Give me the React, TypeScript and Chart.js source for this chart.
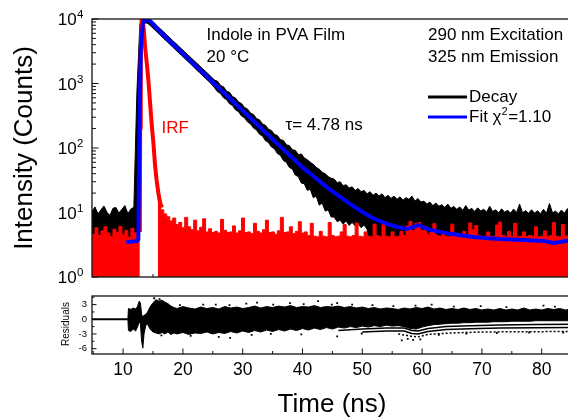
import React, { useEffect, useRef } from "react";
import { Chart, registerables } from "chart.js";
Chart.register(...registerables);

const FONT = '"Liberation Sans", Arial, Helvetica, sans-serif';

// ---- data ----
const channelStart = 4.8; // ns, first channel
const channelWidth = 0.5; // ns per channel

const decayUpper = [
  10.5, 12.2, 9.4, 11.0, 12.6, 10.1, 9.0, 11.6, 12.0, 9.8,
  11.2, 12.8, 9.6, 11.3, 12.1, 700, 8200, 10300, 10500, 10300,
  9400, 8500, 7650, 6950, 6300, 5650, 5150, 4600, 4200, 3780,
  3420, 3100, 2800, 2540, 2290, 2070, 1880, 1690, 1540, 1390,
  1250, 1130, 1080, 933, 887, 761, 730, 626, 595, 516,
  490, 425, 403, 349, 331, 287, 274, 236, 225, 196,
  187, 163, 156, 135, 131, 112, 109, 94, 92, 79,
  81, 70, 66, 60, 56, 50, 47, 42, 40, 36,
  34, 33, 29, 30, 26, 27, 24, 25, 22, 23.5,
  21, 22, 19.5, 21, 18.5, 20, 18, 19.5, 17, 18.5,
  16.5, 18, 16, 17.5, 15.5, 17, 16, 18, 15, 16.5,
  14.5, 15, 13.5, 14.5, 12.8, 14, 12.5, 13.2, 12, 13.5,
  11.6, 12.4, 11.2, 12.2, 10.8, 12.8, 10.9, 11.6, 10.4, 11.8,
  10.6, 11.2, 10.2, 12.5, 10.4, 11.0, 9.9, 11.4, 10.1, 10.8,
  9.8, 11.3, 10.0, 13.5, 9.9, 10.7, 9.7, 11.0, 9.8, 10.6,
  9.6, 11.2, 9.8, 13.8, 9.9, 10.5, 9.6, 10.9, 9.7, 11.5, 9.9,
];

const decayLower = [
  2, 2, 2, 2, 2, 2, 2, 2, 2, 2,
  2, 2, 2, 2, 2, 2, 3000, 7800, 8800, 8300,
  7500, 6800, 6100, 5500, 4980, 4500, 4070, 3670, 3310, 2990,
  2710, 2440, 2210, 2000, 1800, 1620, 1470, 1320, 1200, 1080,
  975, 856, 745, 697, 601, 563, 484, 454, 390, 366,
  314, 295, 254, 237, 204, 191, 164, 154, 130, 122,
  104, 97.5, 82, 77, 64, 60, 50, 47, 38, 36,
  28.6, 28, 22, 23, 17, 18, 13, 14, 10.5, 11,
  8.5, 8.5, 7.2, 7.6, 6.6, 7.4, 6.3, 7.0, 6.2, 6.8,
  5.8, 6.4, 5.5, 2.5, 2.5, 2.5, 2.5, 2.5, 2.5, 2.5,
  2.5, 2.5, 2.5, 2.5, 2.5, 2.5, 2.5, 2.5, 2.5, 2.5,
  2.5, 2.5, 2.5, 2.5, 2.5, 2.5, 2.5, 2.5, 2.5, 2.5,
  2.5, 2.5, 2.5, 2.5, 2.5, 2.5, 2.5, 2.5, 2.5, 2.5,
  2.5, 2.5, 2.5, 2.5, 2.5, 2.5, 2.5, 2.5, 2.5, 2.5,
  2.5, 2.5, 2.5, 2.5, 2.5, 2.5, 2.5, 2.5, 2.5, 2.5,
  2.5, 2.5, 2.5, 2.5, 2.5, 2.5, 2.5, 2.5, 2.5, 2.5, 2.5,
];

const irfCounts: (number | null)[] = [
  4.6, 5.8, 4.4, 5.2, 6.0, 4.8, 4.2, 5.5, 4.9, 6.1,
  4.5, 5.3, 4.1, 5.7, 4.8, 5.0, 5.0, null, null, null,
  null, null, 16, 11, 9.5, 8.6, 7.4, 8.2, 6.5, 7.0,
  5.8, 8.4, 6.0, 5.4, 7.6, 5.2, 5.9, 8.0, 5.0, 5.6,
  4.9, 5.1, 4.8, 7.8, 5.3, 4.9, 5.0, 6.2, 4.8, 5.2,
  8.2, 4.9, 5.0, 4.7, 6.8, 5.1, 4.8, 5.4, 7.6, 4.9,
  5.0, 4.6, 5.2, 8.4, 4.9, 5.0, 6.0, 4.7, 5.1, 7.2,
  4.8, 5.0, 4.4, 6.8, 4.3, 4.2, 5.1, 4.3, 4.2, 7.0,
  4.4, 4.2, 4.3, 5.0, 6.5, 4.3, 4.2, 4.4, 6.9, 4.3,
  4.2, 5.0, 4.3, 4.2, 6.6, 4.4, 4.2, 7.2, 4.3, 4.2,
  5.0, 4.2, 4.3, 5.1, 4.4, 6.2, 7.3, 5.2, 6.8, 7.0,
  5.3, 6.1, 4.6, 5.0, 6.7, 4.4, 4.3, 5.0, 4.3, 4.2,
  6.6, 4.4, 4.2, 4.3, 5.1, 4.2, 6.9, 5.4, 6.3, 4.4,
  4.2, 4.3, 5.0, 4.2, 4.3, 6.4, 7.1, 4.4, 4.2, 5.1,
  4.3, 6.8, 4.2, 4.3, 5.0, 4.2, 4.4, 4.3, 6.0, 4.2,
  4.3, 5.2, 4.2, 4.4, 7.0, 4.3, 4.2, 6.5, 4.3, 4.4, 4.2,
];

const irfPeakTimes = [12.8, 12.85, 12.95, 13.1, 13.25, 13.45, 13.7, 14.0, 14.25, 14.5, 14.8, 15.1, 15.35, 15.6, 15.9, 16.2, 16.5];
const irfPeakCounts = [5, 200, 3000, 10000, 9900, 7000, 3500, 1900, 1060, 520, 222, 110, 53, 32, 20, 14, 12];

const fitTimes = [10.8, 12.3, 12.55, 12.73, 12.96, 13.3, 13.6, 13.96, 14.5, 15, 16, 18, 20, 22, 24, 26, 28, 30, 32, 34, 36, 38, 40, 42, 44, 46, 48, 50, 52, 54, 56, 57.4, 58.4, 59.4, 60.8, 62.5, 64.7, 66.5, 68.6, 71, 73, 76, 78.6, 80.5, 82, 83.5, 85];
const fitCounts = [3.5, 3.6, 3.8, 180, 3500, 8500, 9600, 10000, 9300, 8400, 6600, 4370, 2900, 1930, 1290, 855, 570, 380, 253, 168, 112, 75, 50, 35.5, 25, 18.2, 13.5, 10.2, 8.0, 6.7, 5.9, 5.57, 5.9, 6.4, 5.6, 5.1, 4.7, 4.45, 4.17, 4.0, 3.88, 3.78, 3.69, 3.6, 3.36, 3.55, 3.7];

const resLeadTimes = [4.8, 10.8];
const resLeadValues = [0, 0];

const resTimes = [
  10.8, 10.9, 11.3, 11.7, 12.1, 12.4, 12.7, 12.9, 13.1, 13.3, 13.5, 13.8, 14.1, 14.5, 15.0, 15.5, 16.0, 16.5, 17.0, 17.5, 18.0, 18.5,
  19, 20, 21, 22, 23, 24, 25, 26, 27, 28, 29, 30, 31, 32, 33, 34, 35, 36, 37, 38, 39, 40, 41, 42, 43, 44, 45, 46, 47, 48, 49, 50,
  51, 52, 53, 54, 55, 56, 57, 58, 59, 60, 61, 62, 63, 64, 65, 66, 67, 68, 69, 70, 71, 72, 73, 74, 75, 76, 77, 78, 79, 80, 81, 82, 83, 84, 85,
];
const resUpper = [
  0, 2.2, 2.0, 2.3, 2.1, 2.6, 3.7, 3.3, 1.0, 0.5, 0.8, 1.0, 1.5, 2.5, 3.4, 4.0, 3.7, 3.9, 3.5, 3.2, 2.7, 2.4,
  2.2, 2.6, 2.3, 2.1, 2.5, 2.2, 2.4, 2.1, 2.6, 2.3, 2.5, 2.2, 2.4, 2.7, 2.3, 2.6, 2.4, 2.7, 2.5, 2.8, 2.4, 2.6, 2.5, 2.8, 2.4, 2.6, 2.5, 2.7, 2.4, 2.6, 2.3, 2.5,
  2.2, 2.4, 2.1, 2.3, 2.2, 2.0, 2.3, 2.1, 2.4, 2.2, 2.5, 2.1, 2.3, 2.0, 2.2, 2.0, 2.3, 2.0, 2.2, 1.9, 2.1, 1.9, 2.2, 1.9, 2.1, 1.9, 2.3, 1.9, 2.1, 1.9, 2.2, 2.0, 2.2, 1.9, 2.1,
];
const resLower = [
  0, -2.3, -2.5, -2.0, -2.4, -1.6, -0.5, -1.0, -4.5, -5.9, -3.0, -1.2, -1.0, -2.0, -2.6, -2.8, -3.0, -2.7, -3.0, -2.6, -3.1, -2.8,
  -3.0, -2.7, -3.1, -2.8, -2.9, -2.6, -3.0, -2.7, -2.9, -2.5, -2.8, -2.4, -2.7, -2.3, -2.6, -2.2, -2.5, -2.1, -2.4, -2.0, -2.3, -1.9, -2.2, -1.8, -2.1, -1.7, -2.0, -1.6, -1.8, -1.5, -1.7, -1.4,
  -1.6, -1.3, -1.5, -1.2, -1.4, -1.3, -1.5, -1.9, -2.0, -1.6, -1.3, -1.1, -1.0, -0.9, -0.8, -0.8, -0.7, -0.7, -0.6, -0.6, -0.6, -0.5, -0.5, -0.5, -0.4, -0.4, -0.4, -0.4, -0.3, -0.3, -0.3, -0.3, -0.3, -0.3, -0.3,
];

const stripe1Times = [46, 50, 54, 57, 58.3, 59.3, 61, 64, 68, 73, 79, 85];
const stripe1Values = [-2.3, -2.0, -1.8, -1.8, -2.3, -2.4, -1.9, -1.5, -1.3, -1.15, -1.05, -1.0];
const stripe2Times = [50, 54, 57, 58.3, 59.3, 61, 64, 68, 73, 79, 85];
const stripe2Values = [-2.6, -2.4, -2.4, -2.9, -3.0, -2.5, -2.1, -1.95, -1.8, -1.75, -1.7];
const stripe3Times = [56, 58.3, 59.3, 61, 65, 70, 76, 85];
const stripe3Values = [-3.0, -3.5, -3.6, -3.1, -2.8, -2.6, -2.55, -2.5];

const resDotTimes = [15.2, 16.1, 19.5, 23.4, 25.5, 27.8, 30.6, 32.4, 35.1, 37.9, 40.2, 42.6, 44.9, 45.8, 48.3, 51.7, 55.2, 58.9, 61.6, 65.3, 69.8, 74.1, 80.3, 82.2,
  16.4, 21.3, 26.0, 27.9, 31.5, 34.7, 39.8, 45.8, 49.9, 56.6, 57.6, 58.5, 59.7, 62.8, 67.4, 72.5, 77.9, 83.6];
const resDotValues = [4.3, 4.1, 2.9, 3.0, 3.0, 2.9, 3.2, 3.4, 3.0, 3.3, 3.1, 3.7, 3.0, 3.3, 3.0, 2.9, 2.7, 2.8, 3.0, 2.6, 2.7, 2.5, 2.8, 2.6,
  -3.3, -3.4, -3.6, -3.8, -3.2, -3.0, -3.1, -3.5, -2.9, -4.3, -4.0, -4.2, -4.1, -3.2, -2.9, -2.8, -2.7, -2.7];

const xTickLabels = [10, 20, 30, 40, 50, 60, 70, 80];
const yDecadeExponents = [0, 1, 2, 3, 4];
const resTickLabels = [3, 0, -3, -6];

// ---- helpers ----
const channelPoints = (vals: (number | null)[]) =>
  vals.map((v, i) => ({ x: channelStart + i * channelWidth, y: v }));
const zipPoints = (xs: number[], ys: number[]) => xs.map((x, i) => ({ x, y: ys[i] }));

const W = 600;
const MAIN_H = 290;
const RES_H = 129;
const RES_TOP = 290;
const PAD_LEFT = 92;
const PAD_RIGHT = 28.4;

function seg(ctx: CanvasRenderingContext2D, x1: number, y1: number, x2: number, y2: number) {
  ctx.beginPath();
  ctx.moveTo(x1, y1);
  ctx.lineTo(x2, y2);
  ctx.stroke();
}
function txt(ctx: CanvasRenderingContext2D, s: string, x: number, y: number, size: number, align: CanvasTextAlign = "left", color = "#000") {
  ctx.font = `${size}px ${FONT}`;
  ctx.fillStyle = color;
  ctx.textAlign = align;
  ctx.textBaseline = "middle";
  ctx.fillText(s, x, y);
}

const mainDecor = {
  id: "mainDecor",
  beforeDatasetsDraw(chart: any) {
    const { ctx, chartArea: a, scales } = chart;
    const x = scales.x, y = scales.y;
    ctx.save();
    ctx.strokeStyle = "#111";
    ctx.lineWidth = 1;
    for (const d of yDecadeExponents) {
      for (let m = 1; m <= 9; m++) {
        const v = m * Math.pow(10, d);
        if (v > 10000) break;
        const py = y.getPixelForValue(v);
        seg(ctx, a.left, py, a.left + (m === 1 ? 6.5 : 4), py);
      }
    }
    for (let t = 5; t <= 85; t += 5) {
      const px = x.getPixelForValue(t);
      seg(ctx, px, a.bottom, px, a.bottom - (t % 10 === 0 ? 5.5 : 3));
    }
    ctx.restore();
  },
  afterDatasetsDraw(chart: any) {
    const { ctx, chartArea: a, scales } = chart;
    const y = scales.y;
    ctx.save();
    ctx.strokeStyle = "#111";
    ctx.lineWidth = 1.3;
    ctx.strokeRect(a.left, a.top, a.right - a.left, a.bottom - a.top);

    // y tick labels 10^n
    for (const d of yDecadeExponents) {
      const py = y.getPixelForValue(Math.pow(10, d)) + 1.5;
      ctx.font = `11.5px ${FONT}`;
      const ew = ctx.measureText(String(d)).width;
      const right = 83.5;
      txt(ctx, "10", right - ew - 0.5, py, 17, "right");
      txt(ctx, String(d), right - ew, py - 5.5, 11.5, "left");
    }

    // y title
    ctx.save();
    ctx.translate(25, 148);
    ctx.rotate(-Math.PI / 2);
    txt(ctx, "Intensity (Counts)", 0, 0, 26, "center");
    ctx.restore();

    // annotations
    txt(ctx, "Indole in PVA Film", 206.5, 35.5, 17);
    txt(ctx, "20 °C", 206.5, 57.5, 17);
    txt(ctx, "290 nm Excitation", 428, 35.5, 17);
    txt(ctx, "325 nm Emission", 428, 57, 17);
    txt(ctx, "IRF", 161.5, 128.5, 17, "left", "#ff0000");
    txt(ctx, "τ= 4.78 ns", 285.5, 125.5, 17);

    // legend
    ctx.lineWidth = 3;
    ctx.strokeStyle = "#000";
    seg(ctx, 428, 97, 467, 97);
    ctx.strokeStyle = "#0000ff";
    seg(ctx, 428, 117, 467, 117);
    txt(ctx, "Decay", 469, 97, 17);
    ctx.font = `17px ${FONT}`;
    const w1 = ctx.measureText("Fit χ").width;
    txt(ctx, "Fit χ", 469, 117, 17);
    ctx.font = `11px ${FONT}`;
    const w2 = ctx.measureText("2").width;
    txt(ctx, "2", 469 + w1, 111.5, 11);
    txt(ctx, "=1.10", 469 + w1 + w2 + 0.5, 117, 17);
    ctx.restore();
  },
};

const resDecor = {
  id: "resDecor",
  beforeDatasetsDraw(chart: any) {
    const { ctx, chartArea: a, scales } = chart;
    const y = scales.y;
    ctx.save();
    ctx.strokeStyle = "#111";
    ctx.lineWidth = 1;
    for (const v of [4.5, 3, 1.5, 0, -1.5, -3, -4.5, -6]) {
      const py = y.getPixelForValue(v);
      seg(ctx, a.left, py, a.left + (v % 3 === 0 ? 4.5 : 2.5), py);
    }
    ctx.restore();
  },
  afterDatasetsDraw(chart: any) {
    const { ctx, chartArea: a, scales } = chart;
    const x = scales.x, y = scales.y;
    ctx.save();
    ctx.strokeStyle = "#111";
    ctx.lineWidth = 1;
    for (let t = 5; t <= 85; t += 5) {
      const px = x.getPixelForValue(t);
      seg(ctx, px, a.bottom, px, a.bottom - (t % 10 === 0 ? 5.5 : 3));
    }
    ctx.lineWidth = 1.3;
    ctx.strokeRect(a.left, a.top, a.right - a.left, a.bottom - a.top);

    for (const v of resTickLabels) {
      txt(ctx, String(v), 87, y.getPixelForValue(v), 9.5, "right");
    }
    for (const t of xTickLabels) {
      txt(ctx, String(t), x.getPixelForValue(t), 80.5, 17.5, "center");
    }
    ctx.save();
    ctx.translate(66, 34);
    ctx.rotate(-Math.PI / 2);
    txt(ctx, "Residuals", 0, 0, 10, "center");
    ctx.restore();

    txt(ctx, "Time (ns)", 332, 115, 26, "center");
    ctx.restore();
  },
};

const lineBase = { pointRadius: 0, tension: 0, borderJoinStyle: "round" as const };

export default function App() {
  const mainRef = useRef<HTMLCanvasElement>(null);
  const resRef = useRef<HTMLCanvasElement>(null);

  useEffect(() => {
    const main = new Chart(mainRef.current as HTMLCanvasElement, {
      type: "line",
      data: {
        datasets: [
          { ...lineBase, label: "Fit", data: zipPoints(fitTimes, fitCounts), borderColor: "#0000ff", borderWidth: 4, borderCapStyle: "round", fill: false },
          { ...lineBase, label: "IRF peak", data: zipPoints(irfPeakTimes, irfPeakCounts), borderColor: "#ff0000", borderWidth: 4, fill: false },
          { ...lineBase, label: "IRF", data: channelPoints(irfCounts), stepped: true, borderColor: "#ff0000", borderWidth: 1, backgroundColor: "#ff0000", fill: "start", spanGaps: false },
          { ...lineBase, label: "Decay", data: channelPoints(decayUpper), borderColor: "#000", borderWidth: 1, backgroundColor: "#000", fill: "+1" },
          { ...lineBase, label: "Decay low", data: channelPoints(decayLower), borderColor: "#000", borderWidth: 1, fill: false },
        ],
      },
      options: {
        animation: false,
        responsive: false,
        maintainAspectRatio: false,
        devicePixelRatio: 1,
        events: [],
        layout: { padding: { left: PAD_LEFT, right: PAD_RIGHT, top: 19, bottom: MAIN_H - 277 } },
        scales: {
          x: { type: "linear", min: 4.8, max: 85, display: false },
          y: { type: "logarithmic", min: 1, max: 10000, display: false },
        },
        plugins: { legend: { display: false }, tooltip: { enabled: false } },
      },
      plugins: [mainDecor],
    } as any);

    const res = new Chart(resRef.current as HTMLCanvasElement, {
      type: "line",
      data: {
        datasets: [
          { ...lineBase, label: "dots", data: zipPoints(resDotTimes, resDotValues), showLine: false, pointRadius: 1.3, pointStyle: "rect", pointBackgroundColor: "#000", pointBorderWidth: 0 },
          { ...lineBase, label: "s1", data: zipPoints(stripe1Times, stripe1Values), borderColor: "#000", borderWidth: 1.5, fill: false },
          { ...lineBase, label: "s2", data: zipPoints(stripe2Times, stripe2Values), borderColor: "#000", borderWidth: 1.5, fill: false },
          { ...lineBase, label: "s3", data: zipPoints(stripe3Times, stripe3Values), borderColor: "#000", borderWidth: 1.5, borderDash: [2, 2], fill: false },
          { ...lineBase, label: "resUp", data: zipPoints(resTimes, resUpper), borderColor: "#000", borderWidth: 1, backgroundColor: "#000", fill: "+1" },
          { ...lineBase, label: "resLow", data: zipPoints(resTimes, resLower), borderColor: "#000", borderWidth: 1, fill: false },
          { ...lineBase, label: "lead", data: zipPoints(resLeadTimes, resLeadValues), borderColor: "#000", borderWidth: 2, fill: false },
        ],
      },
      options: {
        animation: false,
        responsive: false,
        maintainAspectRatio: false,
        devicePixelRatio: 1,
        events: [],
        layout: { padding: { left: PAD_LEFT, right: PAD_RIGHT, top: 6, bottom: RES_H - 64 } },
        scales: {
          x: { type: "linear", min: 4.8, max: 85, display: false },
          y: { type: "linear", min: -7.1, max: 4.76, display: false },
        },
        plugins: { legend: { display: false }, tooltip: { enabled: false } },
      },
      plugins: [resDecor],
    } as any);

    return () => {
      main.destroy();
      res.destroy();
    };
  }, []);

  return (
    <div style={{ position: "fixed", left: 0, top: 0, width: 568, height: 419, overflow: "hidden", background: "#fff" }}>
      <canvas ref={mainRef} width={W} height={MAIN_H} style={{ position: "absolute", left: 0, top: 0, width: W, height: MAIN_H }} />
      <canvas ref={resRef} width={W} height={RES_H} style={{ position: "absolute", left: 0, top: RES_TOP, width: W, height: RES_H }} />
    </div>
  );
}
